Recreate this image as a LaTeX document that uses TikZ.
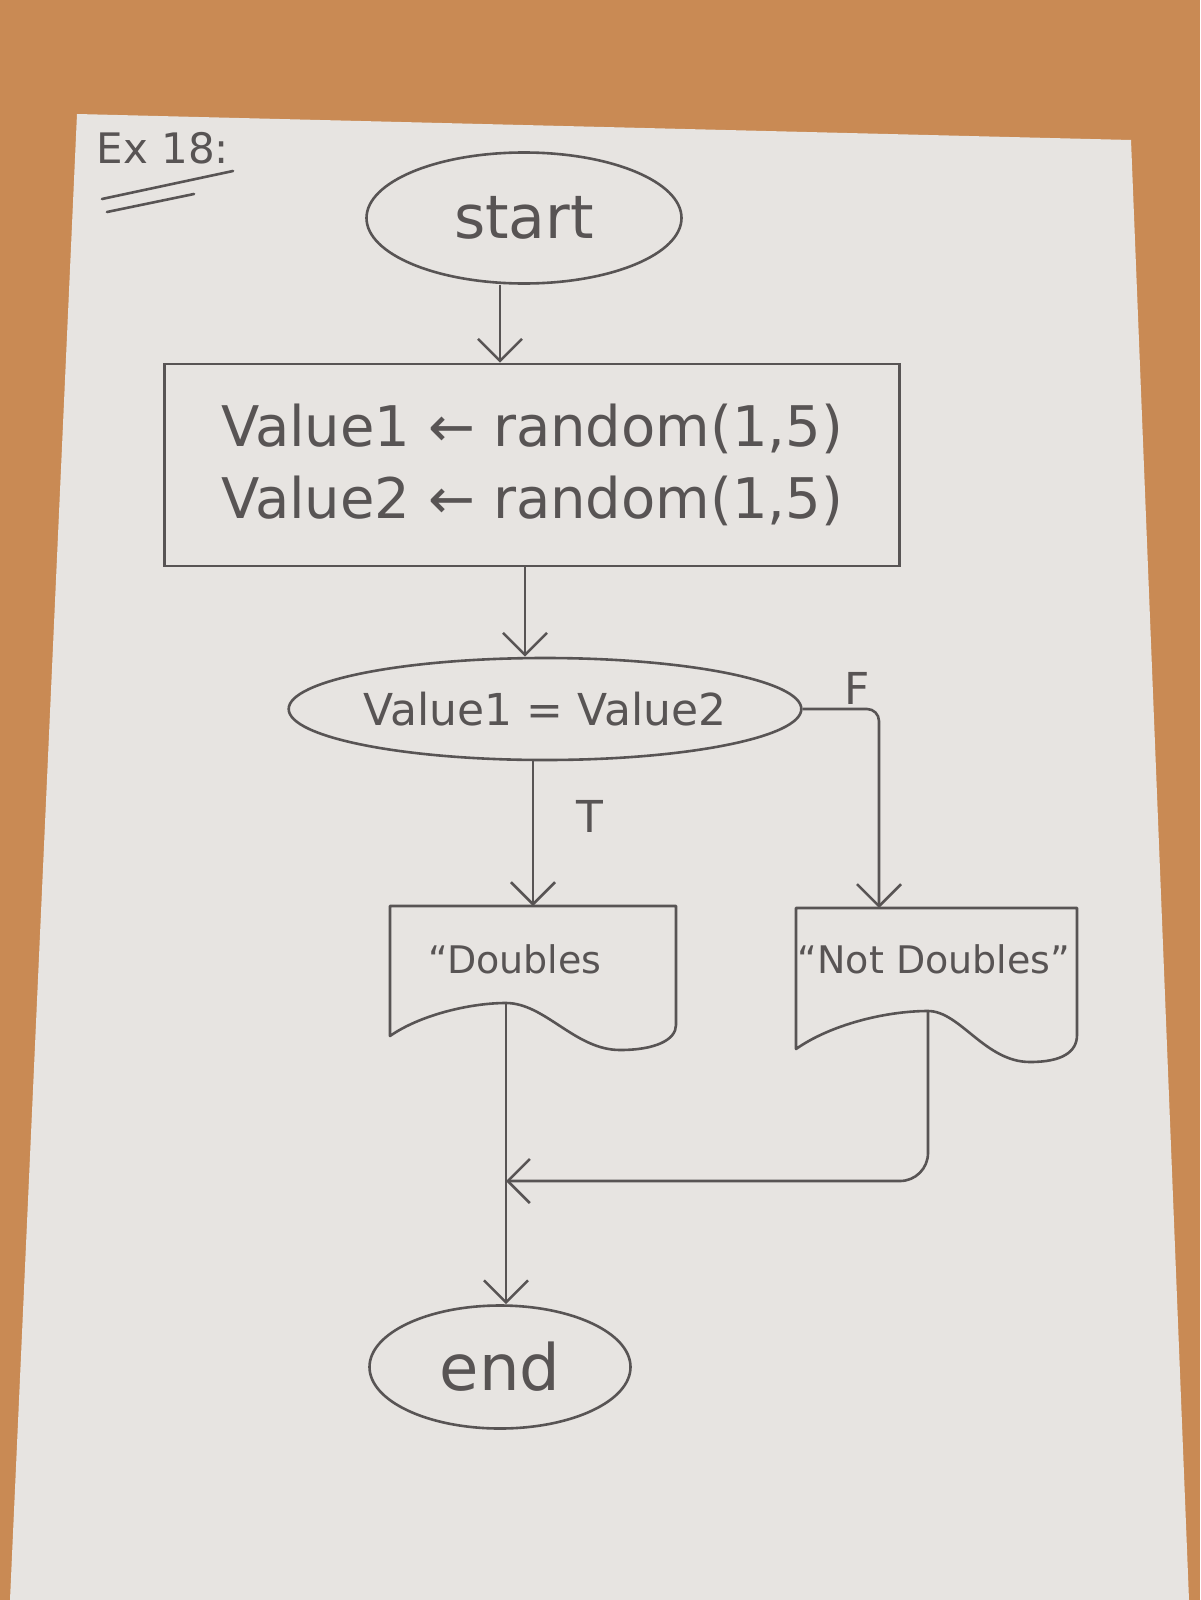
\documentclass[tikz,border=0pt]{standalone}
\usepackage{fontspec}
\setmainfont{DejaVu Sans}
\usetikzlibrary{arrows.meta,shapes.geometric,calc}
\definecolor{wood}{RGB}{201,138,84}
\definecolor{paper}{RGB}{231,228,225}
\definecolor{pencil}{RGB}{88,84,84}
\begin{document}
\begin{tikzpicture}[x=0.5pt,y=-0.5pt,
  pen/.style={draw=pencil,line width=1.3pt},
  arr/.style={pen,-{Straight Barb[length=11pt,width=22pt,line width=1.3pt]}},
  term/.style={pen,shape=ellipse,inner sep=0pt,text=pencil},
  txt/.style={text=pencil,inner sep=0pt},
  fs/.style={font=\fontsize{#1}{#1}\selectfont}]
\useasboundingbox (0,0) rectangle (1200,1600);
% background: table and sheet of paper
\fill[wood] (0,0) rectangle (1200,1600);
\fill[paper] (77,114) -- (1131,140) -- (1189,1600) -- (10,1600) -- cycle;

% title
\node[txt,fs=21] (title) at (163,148) {Ex 18:};
\draw[pen,line cap=round] (102,199) -- (233,171);
\draw[pen,line cap=round] (107,212) -- (194,194);

% start
\node[term,fs=30,minimum width=157.5pt,minimum height=65.5pt] (start) at (524,218) {start};

% process
\node[pen,rectangle,txt,fs=28,align=left,minimum width=367.5pt,minimum height=101pt,inner sep=0pt] (proc) at (532,465)
  {Value1 ← random(1,5)\\[8pt] Value2 ← random(1,5)};

% decision
\node[term,fs=22,minimum width=218pt,minimum height=51pt] (dec) at (545,709) {Value1 = Value2};
\node[txt,fs=22] (flab) at (857,688) {F};
\node[txt,fs=22] (tlab) at (590,816) {T};

% output "Doubles"
\draw[pen,line join=round] (390,906) -- (676,906) -- (676,1025)
  .. controls (676,1040) and (655,1050) .. (620,1050)
  .. controls (575,1050) and (545,1003) .. (506,1003)
  .. controls (470,1003) and (420,1015) .. (390,1036) -- cycle;
\node[txt,fs=19] (dbl) at (515,959) {“Doubles};
\coordinate (dtop) at (533,906);
\coordinate (dpeak) at (506,1003);

% output "Not Doubles"
\draw[pen,line join=round] (796,908) -- (1077,908) -- (1077,1035)
  .. controls (1077,1052) and (1062,1062) .. (1030,1062)
  .. controls (985,1062) and (960,1011) .. (928,1011)
  .. controls (885,1011) and (830,1025) .. (796,1049) -- cycle;
\node[txt,fs=19] (ndbl) at (934,959) {“Not Doubles”};
\coordinate (ntop) at (879,908);
\coordinate (npeak) at (928,1011);

% end
\node[term,fs=32,minimum width=130.5pt,minimum height=61.5pt] (end) at (500,1367) {end};

% connectors
\draw[arr] ([xshift=-12pt]start.south) -- ([xshift=-12pt]start.south |- proc.north);
\draw[arr] ([xshift=-3.5pt]proc.south) -- ([xshift=-3.5pt]proc.south |- dec.north);
\draw[arr] (dtop |- dec.south) -- (dtop);
\draw[arr,rounded corners=6pt] (dec.east) -| (ntop);
\coordinate (merge) at (dpeak |- 0,1181);
\draw[arr] (dpeak) -- (dpeak |- end.north);
\draw[arr,rounded corners=14pt] (npeak) |- (merge);
\end{tikzpicture}
\end{document}
